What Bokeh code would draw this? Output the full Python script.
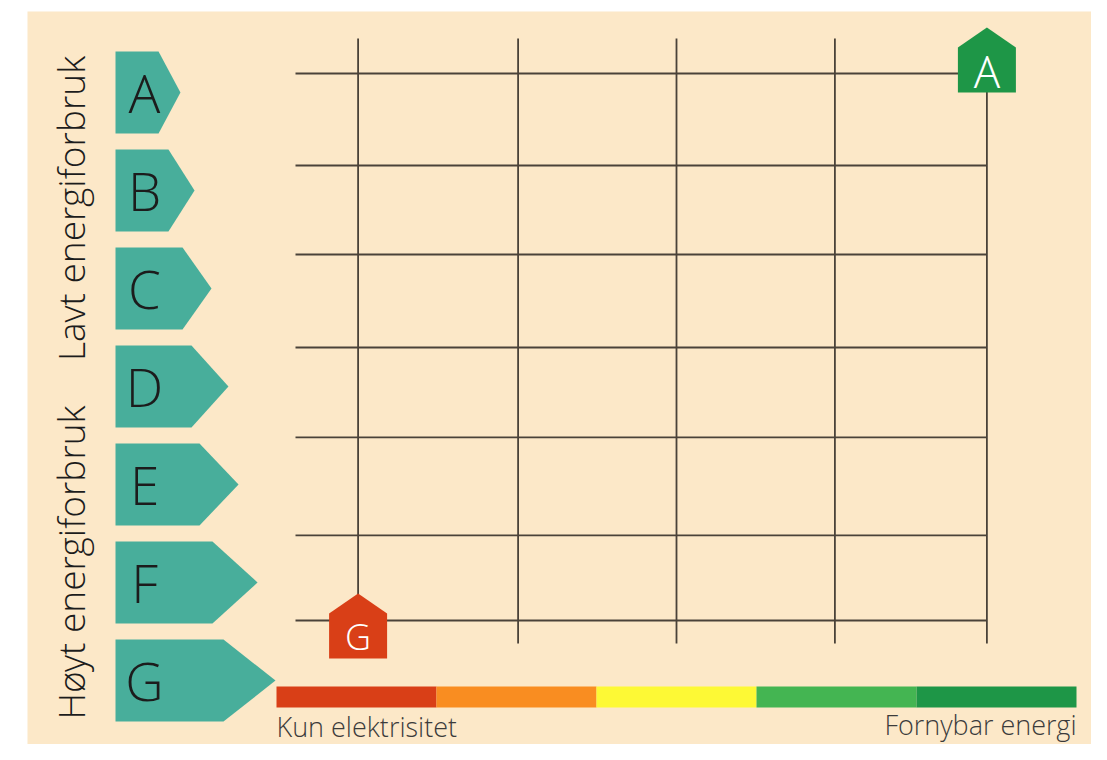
import math
from bokeh.plotting import figure
from bokeh.models import Range1d, BoxAnnotation
from bokeh.core.properties import value
from bokeh.embed import file_html
from bokeh.resources import INLINE

# ---------------- data ----------------
# Energy grades (left scale), top (A) to bottom (G); level 6 = A ... 0 = G
GRADES = ["A", "B", "C", "D", "E", "F", "G"]
GRADE_LEVEL = [6, 5, 4, 3, 2, 1, 0]
# arrow total length and body length (in energy-source units)
ARROW_LENGTH = [0.406, 0.494, 0.600, 0.706, 0.769, 0.888, 1.000]
ARROW_BODY = [0.269, 0.331, 0.419, 0.475, 0.525, 0.606, 0.675]

# Energy source scale (bottom bar): five segments
SOURCE_SEGMENTS = [0, 1, 2, 3, 4]
SOURCE_COLORS = ["#D93F17", "#F98D21", "#FDF935", "#44B552", "#1E9647"]
SOURCE_LABELS = ["Kun elektrisitet", "Fornybar energi"]

# grid lines
GRID_X = [0.51, 1.51, 2.50, 3.49, 4.44]
GRID_Y = [6.194, 5.255, 4.347, 3.398, 2.480, 1.480, 0.612]

# example houses: label, energy-source position, grade position (bottom of house)
HOUSE_LABELS = ["G", "A"]
HOUSE_X = [0.51, 4.44]
HOUSE_Y = [0.224, 6.0]
HOUSE_COLORS = ["#D93F17", "#1E9647"]

AXIS_TITLES = ["Lavt energiforbruk", "Høyt energiforbruk"]

# ---------------- layout ----------------
XPX0, XU = 276.0, 160.0   # reference pixel of x=0, pixels per x unit
YPX0, YU = 680.0, 98.0    # reference pixel of y=0, pixels per y unit


def xu(px):
    return (px - XPX0) / XU


def yu(px):
    return (YPX0 - px) / YU


W, H = 1091, 744
CREAM = "#FCE8C8"
TEAL = "#48AE9B"
INK = "#1c1c1c"
GRIDC = "#4a4239"
FONT = "Open Sans Light, Open Sans"

p = figure(width=W, height=H, output_backend="svg", toolbar_location=None,
           x_range=Range1d(xu(0), xu(W)), y_range=Range1d(yu(H), yu(0)),
           x_axis_type=None, y_axis_type=None, min_border=0)
p.outline_line_color = None
p.background_fill_color = "white"
p.border_fill_color = "white"

p.add_layout(BoxAnnotation(left=xu(27), top=yu(11), fill_color=CREAM, fill_alpha=1,
                           line_color=None, level="underlay"))

# left grade arrows
half = 41 / YU
x_start = xu(115)
xs, ys = [], []
for lvl, L, B in zip(GRADE_LEVEL, ARROW_LENGTH, ARROW_BODY):
    xs.append([x_start, x_start + B, x_start + L, x_start + B, x_start])
    ys.append([lvl + half, lvl + half, lvl, lvl - half, lvl - half])
p.patches(xs, ys, fill_color=TEAL, line_color=None)
p.text(x=[xu(144)] * len(GRADES), y=GRADE_LEVEL, text=GRADES,
       text_font=value(FONT), text_font_size=value("53px"), text_color=INK,
       text_align="center", text_baseline="middle")

# rotated titles
p.text(x=[xu(70), xu(70)], y=[yu(208), yu(562)], text=AXIS_TITLES, angle=math.pi / 2,
       text_font=value(FONT), text_font_size=value("37px"), text_color=INK,
       text_align="center", text_baseline="middle")

# grid
yb, yt = yu(643), yu(38)
p.segment(x0=GRID_X, y0=[yb] * len(GRID_X), x1=GRID_X, y1=[yt] * len(GRID_X),
          line_color=GRIDC, line_width=1.8)
xl, xr = xu(295), GRID_X[-1]
p.segment(x0=[xl] * len(GRID_Y), y0=GRID_Y, x1=[xr] * len(GRID_Y), y1=GRID_Y,
          line_color=GRIDC, line_width=1.8)

# source colour bar
bar_top, bar_bot = yu(686), yu(707)
p.quad(left=SOURCE_SEGMENTS, right=[s + 1 for s in SOURCE_SEGMENTS],
       bottom=[bar_bot] * 5, top=[bar_top] * 5, fill_color=SOURCE_COLORS, line_color=None)
p.text(x=[0], y=[yu(744)], text=[SOURCE_LABELS[0]], text_font=value(FONT),
       text_font_size=value("27px"), text_color="#3b3b3b", text_align="left",
       text_baseline="bottom")
p.text(x=[5], y=[yu(742)], text=[SOURCE_LABELS[1]], text_font=value(FONT),
       text_font_size=value("27px"), text_color="#3b3b3b", text_align="right",
       text_baseline="bottom")

# houses
hw = 29 / XU
body = 45 / YU
roof = 20 / YU
hx, hy = [], []
for cx, by in zip(HOUSE_X, HOUSE_Y):
    hx.append([cx - hw, cx - hw, cx, cx + hw, cx + hw])
    hy.append([by, by + body, by + body + roof, by + body, by])
p.patches(hx, hy, fill_color=HOUSE_COLORS, line_color=None)
p.text(x=HOUSE_X, y=[by + body * 0.48 for by in HOUSE_Y], text=HOUSE_LABELS,
       text_font=value(FONT), text_font_size=["36px", "44px"], text_color="white",
       text_align="center", text_baseline="middle")

open("out.html", "w").write(file_html(p, INLINE))
